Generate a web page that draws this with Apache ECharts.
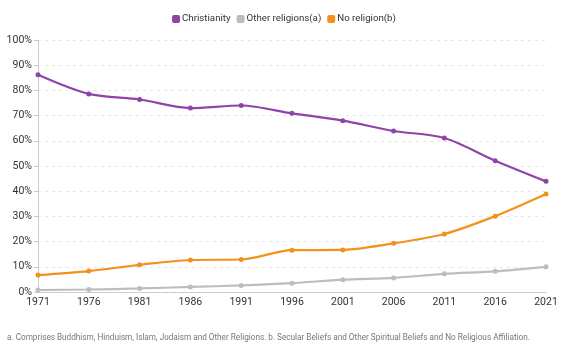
<!DOCTYPE html>
<html><head><meta charset="utf-8">
<script src="https://cdn.jsdelivr.net/npm/echarts@6/dist/echarts.min.js"></script>
<style>html,body{margin:0;padding:0;background:#fff}#c{width:568px;height:351px}</style>
</head><body><div id="c"></div>
<script>
const years = ['1971','1976','1981','1986','1991','1996','2001','2006','2011','2016','2021'];
const christianity = [86.2,78.6,76.4,73.0,74.0,70.9,68.0,63.9,61.1,52.1,43.9];
const otherReligions = [0.8,1.0,1.4,2.0,2.6,3.5,4.9,5.6,7.2,8.2,10.0];
const noReligion = [6.7,8.3,10.8,12.7,12.9,16.6,16.7,19.3,23.0,30.1,38.9];
const seriesNames = ['Christianity','Other religions(a)','No religion(b)'];
const colors = ['#8E44A8','#BDBDBD','#F0921D'];
const footnote = 'a. Comprises Buddhism, Hinduism, Islam, Judaism and Other Religions. b. Secular Beliefs and Other Spiritual Beliefs and No Religious Affiliation.';

const chart = echarts.init(document.getElementById('c'));
const font = 'Roboto, "Noto Sans", sans-serif';
chart.setOption({
  animation:false,
  textStyle:{fontFamily:font},
  color:colors,
  legend:{top:9,left:'center',itemWidth:8,itemHeight:8,itemGap:6,icon:'roundRect',
    textStyle:{fontSize:9.7,color:'#333',fontFamily:font,padding:[0,0,0,-3]}, data:seriesNames},
  grid:{left:38,right:22,top:40,bottom:59},
  xAxis:{type:'category',data:years,boundaryGap:false,
    axisLine:{lineStyle:{color:'#ccc'}},axisTick:{show:false},
    axisLabel:{color:'#333',fontSize:10.5,margin:5,fontFamily:font}},
  yAxis:{type:'value',min:0,max:100,interval:10,
    axisLine:{show:true,lineStyle:{color:'#ccc'}},
    axisTick:{show:true,length:4,lineStyle:{color:'#ccc'}},
    axisLabel:{formatter:'{value}%',color:'#333',fontSize:10.5,margin:6,fontFamily:font},
    splitLine:{lineStyle:{color:'#e6e6e6',type:[3,4]}}},
  graphic:[{type:'text',left:7,top:334,style:{text:footnote,fill:'#777',font:'8.2px '+font}}],
  series:[christianity,otherReligions,noReligion].map((d,i)=>({
    name:seriesNames[i],type:'line',data:d,smooth:0.3,symbol:'circle',symbolSize:5,
    lineStyle:{width:2.2,color:colors[i]},itemStyle:{color:colors[i]}
  }))
});
</script></body></html>
